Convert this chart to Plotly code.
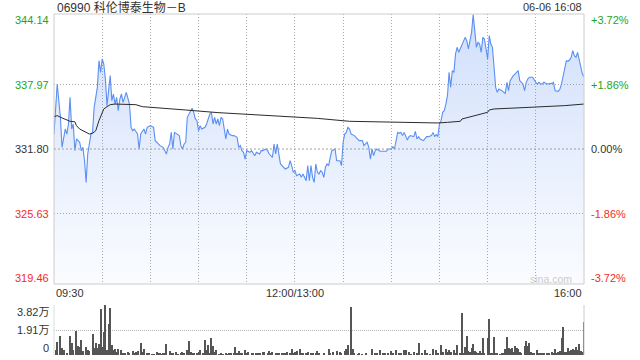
import plotly.graph_objects as go

# ---------------- data ----------------
title_text = "06990 科伦博泰生物－B"
date_text = "06-06 16:08"
prev_close = 331.80
price_ticks = [344.14, 337.97, 331.80, 325.63, 319.46]
time_labels = ["09:30", "12:00/13:00", "16:00"]
time_label_pos = [0, 150, 330]          # trading minutes since 09:30
vol_ticks = [38200, 19100, 0]
vol_tick_text = ["3.82万", "1.91万", "0"]

price_min = [0, 2, 4, 5, 7, 8, 9, 10, 11, 12, 13, 14, 16, 17, 18, 19, 20, 21, 22, 23, 24, 25, 27, 28, 29, 30,
             31, 32, 33, 34, 35, 36, 37, 38, 39, 40, 41, 42, 43, 45, 46, 47, 48, 49, 50, 52, 53, 54, 56, 57, 58,
             60, 62, 63, 65, 66, 68, 70, 71, 72, 73, 74, 75, 78, 79, 80, 81,
             82, 83, 84, 86, 87, 88, 89, 90, 91, 92, 94, 95, 97, 98, 99, 100, 101, 102, 103, 104, 105, 106, 107,
             108, 109, 111, 112, 114, 115, 116, 117, 118, 119, 120, 122, 123, 125, 126, 128, 129, 130, 132, 133,
             134, 136, 137, 138, 139, 140, 141, 143, 144, 146, 147, 148, 149, 150, 151, 153, 154, 155, 156, 157,
             158, 159, 160, 161, 162, 163, 164,
             165, 166, 167, 168, 169, 170, 171, 172, 173, 175, 176, 178, 179, 180, 181, 182, 183, 184, 185, 187,
             189, 190, 192, 193, 194, 195, 196, 197, 198, 199, 200, 201, 203, 205, 207, 208, 210, 211, 212, 213,
             214, 215, 216, 217, 218, 220, 221, 222, 224, 225, 226, 227, 228, 230, 231, 232, 233, 235, 236, 237,
             238, 239, 240, 241, 242, 243, 244, 245,
             246, 247, 248, 249, 250, 251, 252, 253, 254, 255, 256, 257, 258, 259, 260, 261, 262, 263, 264, 265,
             266, 267, 268, 269, 270, 271, 272, 273, 274, 275, 276, 277, 278, 279, 280, 281, 282, 283, 284, 285,
             286, 287, 288, 289, 290, 291, 292, 293, 294, 295, 296, 297, 298, 300, 301, 302, 303, 304, 305, 307,
             308, 310, 311, 312, 314, 315, 316, 318, 319, 320, 321, 322, 323, 324, 325, 326, 327, 328, 329, 330]
price = [333.23, 338.02, 334.83, 331.96, 333.71, 333.23, 334.19, 336.74, 333.71, 334.19, 331.64, 332.76, 332.44,
         331.64, 331.96, 330.68, 328.61, 331.32, 332.28, 333.23, 333.39, 335.79, 337.70, 340.25, 339.13, 340.41,
         339.93, 338.50, 335.95, 337.38, 338.82, 336.42, 337.06, 336.10, 336.74, 335.47, 336.58, 337.06, 336.26,
         337.22, 336.58, 336.10, 333.87, 333.55, 333.71, 333.23, 331.80, 333.23, 333.71, 333.23, 333.87,
         334.03, 333.87, 332.60, 332.28, 332.12, 331.96, 331.32, 331.96, 332.28, 333.39, 331.80, 333.39, 333.08,
         332.12, 331.80, 332.28,
         332.44, 334.83, 335.15, 335.69, 335.31, 334.67, 334.51, 333.55, 334.03, 333.71, 333.87, 334.19, 335.15,
         335.31, 334.19, 334.83, 334.19, 334.67, 334.03, 334.83, 334.67, 333.71, 332.76,
         333.71, 333.23, 333.08, 333.08, 332.92, 331.96, 332.12, 331.64, 331.48, 330.84, 331.64, 331.48, 331.64,
         331.16, 331.48, 331.32, 331.64, 331.64, 331.80, 331.64,
         331.32, 331.00, 332.28, 331.32, 332.28, 331.32, 330.37, 330.05, 329.89, 330.05, 330.68, 330.21, 329.57,
         329.73, 329.25, 329.41, 329.09, 329.41, 329.09, 328.77,
         330.21, 328.77, 330.21, 329.09, 328.61, 330.37, 329.57,
         329.41, 329.73, 329.57, 329.09, 330.05, 330.37, 330.21, 331.00, 331.64, 331.80, 330.68, 330.68, 330.21,
         332.44, 333.23, 333.39, 333.87, 333.71, 333.23, 333.08,
         332.76, 332.60, 332.60, 332.12, 332.28, 332.44, 331.96, 330.84, 331.80, 331.16, 331.64, 331.80, 331.58,
         331.58, 331.58, 331.80, 331.80, 332.02, 331.80, 332.60,
         333.39, 333.30, 333.39, 333.08, 333.39, 332.66, 332.98, 333.08, 332.98, 333.49, 332.76, 332.98, 332.76,
         332.60, 332.85, 332.98, 332.98, 333.08, 333.39, 332.98,
         333.17, 332.98, 334.19, 334.51, 335.31, 335.47, 336.10, 336.90,
         339.13, 337.70, 339.29, 339.13, 340.89, 341.53, 341.05, 341.37, 341.84, 342.00, 342.48, 342.16, 341.37,
         342.16, 342.96, 344.65, 342.96, 341.53, 342.00, 341.84,
         341.05, 342.48, 342.32, 341.37, 340.41, 342.64, 341.84, 341.53, 339.29, 337.70, 337.22, 337.54, 337.44,
         337.38, 337.22, 337.13, 338.18, 337.38, 338.34, 338.66,
         338.82, 338.97, 339.13, 339.29, 338.34, 338.18, 338.02, 337.38, 338.18, 338.50, 338.66, 338.66, 338.66,
         338.18, 338.02, 338.18, 338.02, 338.02, 338.18, 338.02,
         338.02, 338.08, 338.18, 337.38, 337.32, 337.54, 338.02, 339.61, 340.25, 340.19, 340.31, 340.57, 341.21,
         340.73, 340.57, 341.05, 340.41, 339.61, 338.97, 338.72]

avg_min = [0, 2, 5, 10, 13, 14, 16, 20, 22, 24, 26, 28, 29, 31, 33, 35, 38, 44, 51, 55, 61, 67, 73, 82, 102,
           122, 143, 164, 184, 205, 225, 239, 245, 253, 254, 258, 266, 270, 271, 274, 287, 299, 308, 318, 330]
avg_price = [334.90, 334.99, 334.77, 334.45, 334.40, 334.03, 333.71, 333.39, 333.23, 333.30, 333.55, 334.51,
             334.83, 335.63, 335.85, 336.04, 336.10, 336.10, 336.04, 335.85, 335.79, 335.72, 335.63, 335.53,
             335.28, 335.08, 334.89, 334.73, 334.45, 334.38, 334.32, 334.29, 334.35, 334.45, 334.67, 334.83,
             335.15, 335.31, 335.53, 335.63, 335.72, 335.79, 335.85, 335.95, 336.10]

vol_min = [1, 2, 4, 5, 6, 8, 10, 11, 12, 14, 15, 16, 17, 18, 20, 21, 22, 24, 25, 26, 27, 28, 29, 30, 31, 32, 33,
           34, 35, 36, 37, 38, 39, 40, 42, 43, 44, 46, 47, 49, 50, 51, 52, 54, 55, 56, 58, 59, 61, 62, 64, 65,
           66, 67, 68, 69, 70, 72, 73, 74, 76, 77, 79, 80, 81, 83, 84, 85, 86, 87, 89, 90, 91, 93, 94, 95, 96,
           97, 98, 99, 100, 101, 103, 104, 105, 107, 108, 109, 110, 112, 113, 114, 115, 116, 117, 119, 120, 121,
           123, 124, 126, 127, 128, 130, 131, 133, 134, 135, 136, 138, 139, 140, 142, 143, 144, 145, 147, 148,
           149, 150, 151, 153, 154, 155, 157, 158, 160, 161, 163, 164,
           165, 168, 171, 172, 174, 176, 178, 179, 181, 182, 183, 185, 186, 187, 189, 190, 192, 194, 198, 200,
           201, 203, 205, 206, 208, 210, 211, 213, 215, 216, 218, 219, 221, 222, 224, 226, 227, 229, 231, 232,
           234, 236, 238, 239, 241, 242, 244, 245, 246, 247, 249, 250, 251, 253, 254, 255, 256, 257, 258, 259,
           260, 261, 262, 263, 264, 265, 266, 267, 268, 270, 271, 272, 273, 274, 275, 276, 278, 279, 280, 281,
           282, 283, 284, 285, 286, 287, 288, 289, 290, 291, 293, 294, 295, 296, 297, 298, 299, 301, 302, 303,
           304, 305, 307, 308, 310, 311, 312, 313, 314, 315, 316, 317, 318, 319, 320, 321, 322, 323, 324, 325,
           326, 327, 328, 329, 330]
volume = [3820, 10200, 14500, 5090, 3820, 1270, 14500, 8900, 3820, 18300, 6900, 6370, 11500, 3310, 5860, 3820,
          3310, 16000, 5090, 8900, 5090, 8400, 35100, 5860, 17800, 38200, 3820, 23700, 36200, 7600, 3820, 4330,
          2550, 4330, 3820, 1270, 1780, 2550, 1780, 3310, 1270, 2550, 3310, 9400, 2550, 4330, 1780, 1270, 760,
          760, 2550, 1270, 1270, 760, 1270, 1270, 8400, 3310, 1270, 1270, 2550, 760, 1270, 2550, 1270, 3820,
          11000, 2550, 1780, 1780, 1270, 2550, 3820, 1270, 11500, 3820, 7600, 1270, 12700, 6900, 2550, 3820, 760,
          1270, 760, 1270, 760, 1270, 1270, 1780, 5860, 1270, 3310, 1780, 1780, 3820, 1270, 2550, 1270, 1270,
          1780, 1270, 1780, 2550, 2550, 1270, 3310, 1780, 2550, 1270, 1780, 1270, 1780, 1270, 1780, 2550, 1780,
          4330, 1270, 2550, 3310, 4330, 1780, 1270, 1780, 2550, 1270, 1780, 1270, 3310,
          1270, 1780, 4330, 1780, 2550, 3310, 2550, 1780, 3310, 4330, 7600, 36400, 4330, 1270, 760, 1270, 760,
          1270, 4330, 1270, 1780, 3820, 1780, 1270, 1270, 3060, 1780, 3820, 1780, 1270, 3820, 3820, 2550, 760,
          2550, 1780, 9400, 1270, 3820, 1270, 760, 4330, 3820, 1270, 7600, 2550, 4330, 2550, 3820, 2550, 3820,
          1780, 7600, 1270, 32300, 1270, 5860, 14500, 3310, 2550, 5090, 8400, 3310, 2550, 1270, 3310, 1270,
          13200, 1270, 13200, 27500, 1780, 1270, 14000, 1780, 1270, 760, 1270, 1780, 4330, 14000, 5090, 4330,
          5090, 2550, 6900, 5090, 4330, 2550, 1270, 6900, 11000, 6900, 9400, 2550, 1270, 1780, 3820, 1270, 1270,
          1780, 1270, 1780, 1270, 2550, 1780, 4330, 1270, 2550, 3310, 12700, 21600, 2550, 2550, 5090, 3310,
          3820, 4330, 3820, 5860, 3820, 8400, 3310, 2550, 25500]

# ---------------- styling ----------------
FONT = "Liberation Sans, Arial, Noto Sans CJK SC, sans-serif"
GREEN = "#1ea51e"
RED = "#f52a2a"
DARK = "#333333"
GRID = "#a9a9a9"
BORDER = "#cccccc"

W, H = 640, 360
ML, MR, MT, MB = 54, 56, 14, 5
plot_h = H - MT - MB
main_px = (14, 284)      # top/bottom pixel of price panel
vol_px = (305, 355)
def py(p):
    return (H - MB - p) / plot_h
def px(p):
    return (p - ML) / (W - ML - MR)

# price axis: 344.14 at pixel 20, 319.46 at pixel 278
hi, lo = price_ticks[0], price_ticks[-1]
scale = (hi - lo) / (278 - 20)
y_range = [lo - (main_px[1] - 278) * scale, hi + (20 - main_px[0]) * scale]

fig = go.Figure()

fig.add_trace(go.Scatter(
    x=price_min, y=price, mode="lines",
    line=dict(color="#5b8ff2", width=1.1),
    fill="tozeroy",
    fillgradient=dict(type="vertical",
                      colorscale=[[0, "rgba(91,143,242,0.03)"], [0.5, "rgba(91,143,242,0.15)"],
                                  [1, "rgba(91,143,242,0.29)"]],
                      start=y_range[0], stop=y_range[1]),
    xaxis="x", yaxis="y", hoverinfo="skip", showlegend=False))

fig.add_trace(go.Scatter(
    x=avg_min, y=avg_price, mode="lines", line=dict(color="#2b2b2b", width=1),
    xaxis="x", yaxis="y", hoverinfo="skip", showlegend=False))

fig.add_trace(go.Bar(
    x=vol_min, y=volume, width=0.62, marker=dict(color="#555555", line=dict(width=0)),
    xaxis="x2", yaxis="y2", hoverinfo="skip", showlegend=False))

fig.update_layout(
    width=W, height=H,
    margin=dict(l=ML, r=MR, t=MT, b=MB),
    paper_bgcolor="white", plot_bgcolor="rgba(0,0,0,0)",
    font=dict(family=FONT, size=11, color=DARK),
    xaxis=dict(domain=[0, 1], range=[0, 330], anchor="y", showticklabels=False, ticks="",
               showgrid=True, tickmode="array", tickvals=list(range(30, 330, 30)),
               gridcolor=GRID, griddash="1px,2px", gridwidth=1, zeroline=False, showline=False),
    yaxis=dict(domain=[py(main_px[1]), 1], range=y_range, showticklabels=False, ticks="",
               tickmode="array", tickvals=[price_ticks[1], price_ticks[3]],
               showgrid=True, gridcolor=GRID, griddash="1px,2px", zeroline=False, showline=False),
    xaxis2=dict(domain=[0, 1], range=[0, 330], anchor="y2", showticklabels=False, ticks="",
                showgrid=False, zeroline=False, showline=False),
    yaxis2=dict(domain=[0, py(vol_px[0])], range=[0, vol_ticks[0] * 1.002], showticklabels=False,
                ticks="", tickmode="array", tickvals=[vol_ticks[0], vol_ticks[1]],
                showgrid=True, gridcolor="#b5b5b5", griddash="1px,1px", zeroline=False, showline=False),
    bargap=0,
)

shapes = [
    dict(type="rect", xref="x domain", yref="y domain", x0=0, x1=1, y0=0, y1=1,
         line=dict(color=BORDER, width=1), layer="above"),
    dict(type="line", xref="x domain", yref="y", x0=0, x1=1, y0=prev_close, y1=prev_close,
         line=dict(color="#a0a0a0", width=1, dash="2px,2px"), layer="above"),
    dict(type="line", xref="x2 domain", yref="y2 domain", x0=0, x1=0, y0=0, y1=1,
         line=dict(color="#dddddd", width=1)),
    dict(type="line", xref="x2 domain", yref="y2 domain", x0=1, x1=1, y0=0, y1=1,
         line=dict(color=BORDER, width=1)),
]
fig.update_layout(shapes=shapes)

ann = []
for p in price_ticks:
    pct = (p / prev_close - 1) * 100
    col = GREEN if pct > 0.001 else (RED if pct < -0.001 else DARK)
    ann.append(dict(x=px(51), xref="paper", y=p, yref="y", text=f"{p:.2f}", showarrow=False,
                    xanchor="right", yanchor="middle", font=dict(color=col, size=11)))
    sign = "+" if pct > 0.001 else ""
    ann.append(dict(x=px(589), xref="paper", y=p, yref="y", text=f"{sign}{pct:.2f}%", showarrow=False,
                    xanchor="left", yanchor="middle", font=dict(color=col, size=11)))

anchors = ["left", "center", "right"]
for lab, pos, anc in zip(time_labels, time_label_pos, anchors):
    ann.append(dict(x=pos, xref="x", y=py(293), yref="paper", text=lab, showarrow=False,
                    xanchor=anc, yanchor="middle", font=dict(color=DARK, size=11)))

shifts = [-7, 0, 7]
for v, t, s in zip(vol_ticks, vol_tick_text, shifts):
    ann.append(dict(x=px(51), xref="paper", y=v, yref="y2", text=t, showarrow=False, yshift=s,
                    xanchor="right", yanchor="middle", font=dict(color=DARK, size=11)))

ann.append(dict(x=px(55), xref="paper", y=py(7), yref="paper", text=title_text, showarrow=False,
                xanchor="left", yanchor="middle", font=dict(color=DARK, size=12)))
ann.append(dict(x=1, xref="paper", y=py(7), yref="paper", text=date_text, showarrow=False,
                xanchor="right", yanchor="middle", font=dict(color=DARK, size=11)))
ann.append(dict(x=px(574), xref="paper", y=py(279), yref="paper", text="sina.com", showarrow=False,
                xanchor="right", yanchor="middle", font=dict(color="#cccccc", size=10.5)))
fig.update_layout(annotations=ann)

fig.write_html("out.html")
